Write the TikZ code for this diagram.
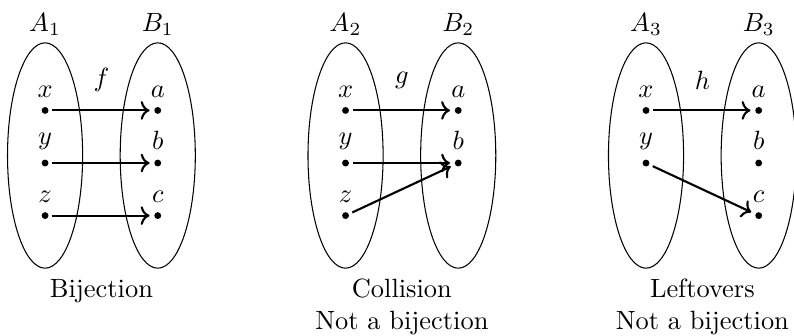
\documentclass[tikz,border=0pt]{standalone}
\usepackage{amsmath,amssymb}
\usepackage{tikz}
\usetikzlibrary{arrows.meta,positioning,calc}

\begin{document}
\begin{tikzpicture}[
    pt/.style={circle,fill=black,inner sep=0pt,minimum size=2.6pt,label distance=-0.8pt},
    setname/.style={font=\normalsize},
    caption/.style={below,align=center},
    arr/.style={->,thick,shorten <=1.3pt,shorten >=1.6pt}
]
\useasboundingbox (-0.6,-2.39) rectangle (9.97,2.07);

% bijection
\draw (0,0) ellipse (0.5 and 1.5);
\draw (1.5,0) ellipse (0.5 and 1.5);
\node[setname] (A1) at (0,1.75) {$A_1$};
\node[setname] (B1) at (1.5,1.75) {$B_1$};
\node[pt,label=above:$x$] (x1) at (0,0.6) {};
\node[pt,label=above:$y$] (y1) at (0,-0.1) {};
\node[pt,label=above:$z$] (z1) at (0,-0.8) {};
\node[pt,label=above:$a$] (a1) at (1.5,0.6) {};
\node[pt,label=above:$b$] (b1) at (1.5,-0.1) {};
\node[pt,label=above:$c$] (c1) at (1.5,-0.8) {};
\node (f) at (0.75,1.0) {$f$};
\draw[arr] (x1) -- (a1);
\draw[arr] (y1) -- (b1);
\draw[arr] (z1) -- (c1);
\node[caption] (cap1) at (0.75,-1.52) {Bijection};

% collision
\draw (4,0) ellipse (0.5 and 1.5);
\draw (5.5,0) ellipse (0.5 and 1.5);
\node[setname] (A2) at (4,1.75) {$A_2$};
\node[setname] (B2) at (5.5,1.75) {$B_2$};
\node[pt,label=above:$x$] (x2) at (4,0.6) {};
\node[pt,label=above:$y$] (y2) at (4,-0.1) {};
\node[pt,label=above:$z$] (z2) at (4,-0.8) {};
\node[pt,label=above:$a$] (a2) at (5.5,0.6) {};
\node[pt,label=above:$b$] (b2) at (5.5,-0.1) {};
\node (g) at (4.75,1.0) {$g$};
\draw[arr] (x2) -- (a2);
\draw[arr] (y2) -- (b2);
\draw[arr] (z2) -- (b2);
\node[caption] (cap2) at (4.75,-1.52) {Collision\\Not a bijection};

% leftovers
\draw (8,0) ellipse (0.5 and 1.5);
\draw (9.5,0) ellipse (0.5 and 1.5);
\node[setname] (A3) at (8,1.75) {$A_3$};
\node[setname] (B3) at (9.5,1.75) {$B_3$};
\node[pt,label=above:$x$] (x3) at (8,0.6) {};
\node[pt,label=above:$y$] (y3) at (8,-0.1) {};
\node[pt,label=above:$a$] (a3) at (9.5,0.6) {};
\node[pt,label=above:$b$] (b3) at (9.5,-0.1) {};
\node[pt,label=above:$c$] (c3) at (9.5,-0.8) {};
\node (h) at (8.75,1.0) {$h$};
\draw[arr] (x3) -- (a3);
\draw[arr] (y3) -- (c3);
\node[caption] (cap3) at (8.75,-1.52) {Leftovers\\Not a bijection};
\end{tikzpicture}
\end{document}
